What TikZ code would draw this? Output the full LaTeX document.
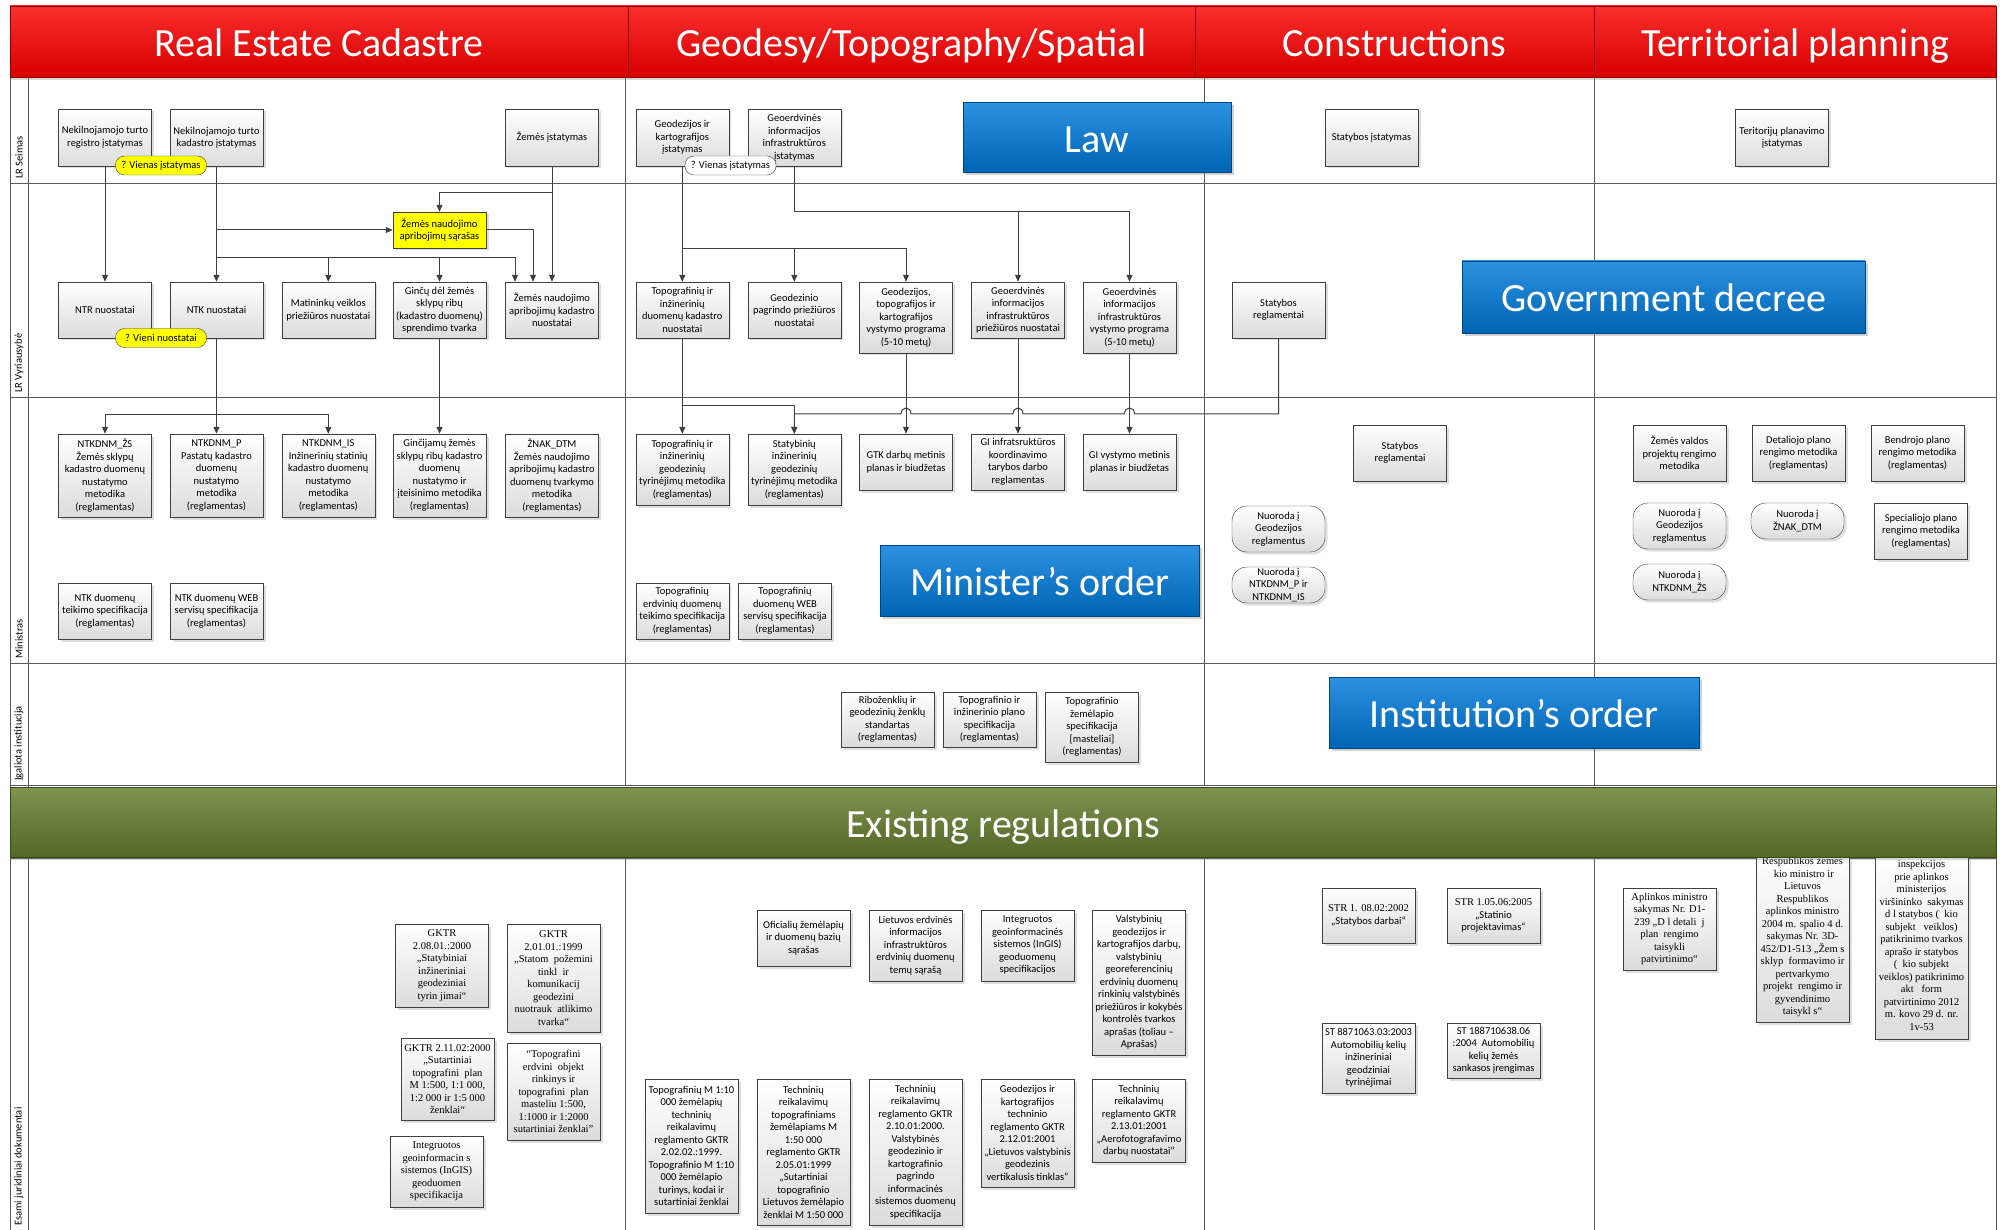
\documentclass[tikz,border=0pt]{standalone}
\usepackage{fontspec}
\setmainfont{Carlito}
\newfontfamily\serifdoc{Liberation Serif}
\usetikzlibrary{arrows.meta,shadows,positioning}

\definecolor{linegray}{RGB}{64,64,64}
\definecolor{gridgray}{RGB}{90,90,90}
\definecolor{boxbot}{RGB}{220,220,220}
\definecolor{hdrtop}{RGB}{250,45,45}
\definecolor{hdrbot}{RGB}{215,0,0}
\definecolor{lawtop}{RGB}{45,145,225}
\definecolor{lawbot}{RGB}{0,100,180}
\definecolor{lawedge}{RGB}{0,70,130}
\definecolor{regtop}{RGB}{128,148,80}
\definecolor{regbot}{RGB}{82,102,38}
\definecolor{pillyellow}{RGB}{255,255,0}

\tikzset{%
	boxbase/.style  = {draw=linegray, rectangle, minimum width=93pt, inner sep=1pt, align=center, font=\fontsize{10.5}{12.5}\selectfont, drop shadow={shadow xshift=2.5pt, shadow yshift=-2.5pt, opacity=0.25}},
	docbox/.style   = {boxbase, top color=white, bottom color=boxbot},
	serifbox/.style = {docbox, font=\serifdoc\fontsize{10.5}{12.5}\selectfont},
	notebox/.style  = {boxbase, fill=pillyellow},
	refbox/.style   = {docbox, rounded corners=15pt},
	pill/.style     = {draw=linegray, rounded corners=9pt, minimum width=91pt, minimum height=19pt, inner sep=1pt, font=\fontsize{10.5}{12}\selectfont},
	bigtext/.style  = {text=white, font=\fontsize{40}{44}\selectfont, text height=31pt, text depth=1pt},
	headcell/.style = {bigtext, draw=red!55!black, rectangle, top color=hdrtop, bottom color=hdrbot, minimum height=71pt, drop shadow={shadow xshift=0pt, shadow yshift=-3pt, opacity=0.3}},
	lawbox/.style   = {bigtext, draw=lawedge, rectangle, top color=lawtop, bottom color=lawbot, drop shadow={shadow xshift=3pt, shadow yshift=-3pt, opacity=0.35}},
	regbar/.style   = {bigtext, draw=regbot!70!black, rectangle, top color=regtop, bottom color=regbot, drop shadow={shadow xshift=0pt, shadow yshift=-3pt, opacity=0.3}},
	lanelabel/.style= {inner sep=1pt, font=\fontsize{10.5}{12}\selectfont},
	gridline/.style = {draw=gridgray, line width=0.8pt},
	arrow/.style    = {draw=linegray, line width=1pt, -{Triangle[length=7pt,width=6pt]}},
}

\begin{document}
\begin{tikzpicture}[x=1pt,y=-1pt]
	\useasboundingbox (0,0) rectangle (2000,1230);
	\fill[white] (0,0) rectangle (2000,1230);

	% lanes and columns
	\draw[gridline] (10,78) -- (10,1230) (28,78) -- (28,1230) (1996,78) -- (1996,1230);
	\foreach \y in {183,397,663,785,858}
		\draw[gridline] (10,\y) -- (1996,\y);
	\foreach \x in {625,1204,1594} {
		\draw[gridline] (\x,78) -- (\x,785);
		\draw[gridline] (\x,858) -- (\x,1230);
	}
	\node[lanelabel, rotate=90, anchor=west] (lseimas) at (19,180) {LR Seimas};
	\node[lanelabel, rotate=90, anchor=west] (lvyr) at (19,394) {LR Vyriausybė};
	\node[lanelabel, rotate=90, anchor=west] (lmin) at (19,660) {Ministras};
	\node[lanelabel, rotate=90, anchor=west] (linst) at (19,782) {Įgaliota institucija};
	\node[lanelabel, rotate=90, anchor=west] (ldoc) at (19,1227) {Esami juridiniai dokumentai};

	% column headers
	\node[headcell, minimum width=618pt] (hdrcad) at (319,41.5) {Real Estate Cadastre};
	\node[headcell, minimum width=567pt] (hdrgeo) at (911.5,41.5) {Geodesy/Topography/Spatial};
	\node[headcell, minimum width=399pt] (hdrcon) at (1394.5,41.5) {Constructions};
	\node[headcell, minimum width=402pt] (hdrter) at (1795,41.5) {Territorial planning};

	% LR Seimas
	\node[docbox, minimum height=57pt] (ntrlaw) at (105,137.5) {Nekilnojamojo turto\\registro įstatymas};
	\node[docbox, minimum height=57pt] (ntklaw) at (216.5,137.5) {Nekilnojamojo turto\\kadastro įstatymas};
	\node[docbox, minimum height=57pt] (zemlaw) at (552,137.5) {Žemės įstatymas};
	\node[docbox, minimum height=57pt] (gklaw) at (682.3,137.5) {Geodezijos ir\\kartografijos\\įstatymas};
	\node[docbox, minimum height=57pt] (gilaw) at (794.3,137.5) {Geoerdvinės\\informacijos\\infrastruktūros\\įstatymas};
	\node[docbox, minimum height=57pt] (stlaw) at (1371.5,137.5) {Statybos įstatymas};
	\node[docbox, minimum height=57pt] (tplaw) at (1782,137.5) {Teritorijų planavimo\\įstatymas};
	\node[lawbox, minimum width=268pt, minimum height=70pt] (law) at (1097,137.5) {Law};

	% LR Vyriausybe
	\node[notebox, minimum height=36pt] (zemlist) at (439.5,230) {Žemės naudojimo\\apribojimų sąrašas};
	\node[docbox, minimum height=56pt] (ntrnuo) at (105,310) {NTR nuostatai};
	\node[docbox, minimum height=56pt] (ntknuo) at (216.5,310) {NTK nuostatai};
	\node[docbox, minimum height=56pt] (matnuo) at (328.3,310) {Matininkų veiklos\\priežiūros nuostatai};
	\node[docbox, minimum height=56pt] (gincnuo) at (439.5,310) {Ginčų dėl žemės\\sklypų ribų\\(kadastro duomenų)\\sprendimo tvarka};
	\node[docbox, minimum height=56pt] (zemnuo) at (552,310) {Žemės naudojimo\\apribojimų kadastro\\nuostatai};
	\node[docbox, minimum height=56pt] (tinuo) at (682.3,310) {Topografinių ir\\inžinerinių\\duomenų kadastro\\nuostatai};
	\node[docbox, minimum height=56pt] (gpnuo) at (794.3,310) {Geodezinio\\pagrindo priežiūros\\nuostatai};
	\node[docbox, minimum height=71pt] (gtkprog) at (906,317.5) {Geodezijos,\\topografijos ir\\kartografijos\\vystymo programa\\(5-10 metų)};
	\node[docbox, minimum height=56pt] (ginuo) at (1018,310) {Geoerdvinės\\informacijos\\infrastruktūros\\priežiūros nuostatai};
	\node[docbox, minimum height=71pt] (giprog) at (1129.5,317.5) {Geoerdvinės\\informacijos\\infrastruktūros\\vystymo programa\\(5-10 metų)};
	\node[docbox, minimum height=56pt] (streg1) at (1278.5,310) {Statybos\\reglamentai};
	\node[lawbox, minimum width=403pt, minimum height=72pt] (govdec) at (1663.5,297) {Government decree};

	% Ministras
	\node[docbox, minimum height=83pt] (ntkdnmzs) at (105,475.5) {NTKDNM\_ŽS\\Žemės sklypų\\kadastro duomenų\\nustatymo\\metodika\\(reglamentas)};
	\node[docbox, minimum height=83pt] (ntkdnmp) at (216.5,475.5) {NTKDNM\_P\\Pastatų kadastro\\duomenų\\nustatymo\\metodika\\(reglamentas)};
	\node[docbox, minimum height=83pt] (ntkdnmis) at (328.3,475.5) {NTKDNM\_IS\\Inžinerinių statinių\\kadastro duomenų\\nustatymo\\metodika\\(reglamentas)};
	\node[docbox, minimum height=83pt] (gincmet) at (439.5,475.5) {Ginčijamų žemės\\sklypų ribų kadastro\\duomenų\\nustatymo ir\\įteisinimo metodika\\(reglamentas)};
	\node[docbox, minimum height=83pt] (znakdtm) at (552,475.5) {ŽNAK\_DTM\\Žemės naudojimo\\apribojimų kadastro\\duomenų tvarkymo\\metodika\\(reglamentas)};
	\node[docbox, minimum height=56pt] (ntkspec) at (105,611) {NTK duomenų\\teikimo specifikacija\\(reglamentas)};
	\node[docbox, minimum height=56pt] (ntkweb) at (216.5,611) {NTK duomenų WEB\\servisų specifikacija\\(reglamentas)};
	\node[docbox, minimum height=71pt] (timet) at (682.3,469.5) {Topografinių ir\\inžinerinių\\geodezinių\\tyrinėjimų metodika\\(reglamentas)};
	\node[docbox, minimum height=71pt] (stmet) at (794.3,469.5) {Statybinių\\inžinerinių\\geodezinių\\tyrinėjimų metodika\\(reglamentas)};
	\node[docbox, minimum height=56pt] (gtkplan) at (906,462) {GTK darbų metinis\\planas ir biudžetas};
	\node[docbox, minimum height=56pt] (gitaryba) at (1018,462) {GI infratsruktūros\\koordinavimo\\tarybos darbo\\reglamentas};
	\node[docbox, minimum height=56pt] (giplan) at (1129.5,462) {GI vystymo metinis\\planas ir biudžetas};
	\node[docbox, minimum height=56pt] (tispec) at (682.3,611) {Topografinių\\erdvinių duomenų\\teikimo specifikacija\\(reglamentas)};
	\node[docbox, minimum height=56pt] (tiweb) at (785,611) {Topografinių\\duomenų WEB\\servisų specifikacija\\(reglamentas)};
	\node[lawbox, minimum width=319pt, minimum height=71pt] (minorder) at (1039.5,580.5) {Minister’s order};
	\node[docbox, minimum height=56pt] (streg2) at (1400,453) {Statybos\\reglamentai};
	\node[refbox, minimum height=46pt] (nuorgeo1) at (1278.5,529) {Nuoroda į\\Geodezijos\\reglamentus};
	\node[refbox, minimum height=36pt] (nuorntk) at (1278.5,585) {Nuoroda į\\NTKDNM\_P ir\\NTKDNM\_IS};
	\node[docbox, minimum height=56pt] (zvmet) at (1679.5,453) {Žemės valdos\\projektų rengimo\\metodika};
	\node[docbox, minimum height=56pt] (detmet) at (1798.5,453) {Detaliojo plano\\rengimo metodika\\(reglamentas)};
	\node[docbox, minimum height=56pt] (benmet) at (1917.5,453) {Bendrojo plano\\rengimo metodika\\(reglamentas)};
	\node[refbox, minimum height=46pt] (nuorgeo2) at (1679.5,526) {Nuoroda į\\Geodezijos\\reglamentus};
	\node[refbox, minimum height=36pt] (nuorznak) at (1797.5,521) {Nuoroda į\\ŽNAK\_DTM};
	\node[docbox, minimum height=56pt] (specmet) at (1921,531) {Specialiojo plano\\rengimo metodika\\(reglamentas)};
	\node[refbox, minimum height=36pt] (nuorzs) at (1679.5,582) {Nuoroda į\\NTKDNM\_ŽS};

	% Igaliota institucija
	\node[docbox, minimum height=55pt] (ribst) at (887.5,719.5) {Riboženklių ir\\geodezinių ženklų\\standartas\\(reglamentas)};
	\node[docbox, minimum height=55pt] (tiplan) at (989.5,719.5) {Topografinio ir\\inžinerinio plano\\specifikacija\\(reglamentas)};
	\node[docbox, minimum height=70pt] (tizem) at (1092,727) {Topografinio\\žemėlapio\\specifikacija\\{[masteliai]}\\(reglamentas)};
	\node[lawbox, minimum width=370pt, minimum height=71pt] (instorder) at (1514,712.5) {Institution’s order};

	% Esami juridiniai dokumentai
	\node[serifbox, minimum height=170pt] (zemukio) at (1802.5,937) {Respublikos žemės\\\ kio ministro ir\\Lietuvos\\Respublikos\\aplinkos ministro\\2004 m. spalio 4 d.\\sakymas Nr. 3D-\\452/D1-513 „Žem\ s\\sklyp\ \ formavimo ir\\pertvarkymo\\projekt\ \ rengimo ir\\gyvendinimo\\taisykl\ s“};
	\node[serifbox, minimum height=187pt] (inspek) at (1921.5,945.5) {inspekcijos\\prie aplinkos\\ministerijos\\viršininko\ \ sakymas\\d\ l statybos (\ \ kio\\subjekt\ \ \ veiklos)\\patikrinimo tvarkos\\aprašo ir statybos\\(\ \ kio subjekt\\veiklos) patikrinimo\\akt\ \ \ form\\patvirtinimo 2012\\m. kovo 29 d. nr.\\1v-53};
	\node[regbar, minimum width=1986pt, minimum height=70pt] (existing) at (1003,822) {Existing regulations};

	\node[serifbox, minimum height=83pt] (gktr1) at (442,965.5) {GKTR\\2.08.01.:2000\\„Statybiniai\\inžineriniai\\geodeziniai\\tyrin\ jimai“};
	\node[serifbox, minimum height=108pt] (gktr2) at (553.5,978) {GKTR\\2.01.01.:1999\\„Statom\ \ požemini\\tinkl\ \ ir\\komunikacij\\geodezini\\nuotrauk\ \ atlikimo\\tvarka“};
	\node[serifbox, minimum height=82pt] (gktr3) at (447.5,1079) {GKTR 2.11.02:2000\\„Sutartiniai\\topografini\ \ plan\\M 1:500, 1:1 000,\\1:2 000 ir 1:5 000\\ženklai“};
	\node[serifbox, minimum height=97pt] (topoerd) at (553.5,1091.5) {“Topografini\\erdvini\ \ objekt\\rinkinys ir\\topografini\ \ plan\\masteliu 1:500,\\1:1000 ir 1:2000\\sutartiniai ženklai”};
	\node[serifbox, minimum height=71pt] (ingis1) at (436.5,1171.5) {Integruotos\\geoinformacin\ s\\sistemos (InGIS)\\geoduomen\\specifikacija};
	\node[docbox, minimum height=56pt] (oficial) at (803.5,938) {Oficialių žemėlapių\\ir duomenų bazių\\sąrašas};
	\node[docbox, minimum height=71pt] (lietuvos) at (915.5,945.5) {Lietuvos erdvinės\\informacijos\\infrastruktūros\\erdvinių duomenų\\temų sąrašą};
	\node[docbox, minimum height=71pt] (ingis2) at (1027.5,945.5) {Integruotos\\geoinformacinės\\sistemos (InGIS)\\geoduomenų\\specifikacijos};
	\node[docbox, minimum height=145pt] (valst) at (1139,982.5) {Valstybinių\\geodezijos ir\\kartografijos darbų,\\valstybinių\\georeferencinių\\erdvinių duomenų\\rinkinių valstybinės\\priežiūros ir kokybės\\kontrolės tvarkos\\aprašas (toliau –\\Aprašas)};
	\node[docbox, minimum height=134pt] (topo10) at (691.5,1146) {Topografinių M 1:10\\000 žemėlapių\\techninių\\reikalavimų\\reglamento GKTR\\2.02.02.:1999.\\Topografinio M 1:10\\000 žemėlapio\\turinys, kodai ir\\sutartiniai ženklai};
	\node[docbox, minimum height=146pt] (tech50) at (803.5,1152) {Techninių\\reikalavimų\\topografiniams\\žemėlapiams M\\1:50 000\\reglamento GKTR\\2.05.01:1999\\„Sutartiniai\\topografinio\\Lietuvos žemėlapio\\ženklai M 1:50 000};
	\node[docbox, minimum height=146pt] (techgktr) at (915.5,1152) {Techninių\\reikalavimų\\reglamento GKTR\\2.10.01:2000.\\Valstybinės\\geodezinio ir\\kartografinio\\pagrindo\\informacinės\\sistemos duomenų\\specifikacija};
	\node[docbox, minimum height=108pt] (geodver) at (1027.5,1133) {Geodezijos ir\\kartografijos\\techninio\\reglamento GKTR\\2.12.01:2001\\„Lietuvos valstybinis\\geodezinis\\vertikalusis tinklas“};
	\node[docbox, minimum height=83pt] (aerofoto) at (1139,1120.5) {Techninių\\reikalavimų\\reglamento GKTR\\2.13.01:2001\\„Aerofotografavimo\\darbų nuostatai“};
	\node[docbox, minimum height=55pt] (str1) at (1368.5,915.5) {{\serifdoc STR 1. 08.02:2002}\\„Statybos darbai“};
	\node[docbox, minimum height=55pt] (str2) at (1493.5,915.5) {{\serifdoc STR 1.05.06:2005}\\„Statinio\\projektavimas“};
	\node[docbox, minimum height=70pt] (st1) at (1368.5,1058) {ST 8871063.03:2003\\Automobilių kelių\\inžineriniai\\geodziniai\\tyrinėjimai};
	\node[docbox, minimum height=55pt] (st2) at (1493.5,1050.5) {ST 188710638.06\\:2004\ \ Automobilių\\kelių žemės\\sankasos įrengimas};
	\node[serifbox, minimum height=82pt] (aplmin) at (1669.5,929) {Aplinkos ministro\\sakymas Nr. D1-\\239 „D\ l detali\ \ j\\plan\ \ rengimo\\taisykli\\patvirtinimo“};

	% connectors: real estate cadastre
	\draw[arrow] (ntrlaw) -- (ntrnuo);
	\draw[arrow] (ntklaw) -- (ntknuo);
	\draw[arrow] (ntklaw.south) |- (zemlist);
	\draw[arrow] (ntklaw.south) |- ([yshift=24pt]matnuo.north) -- (matnuo);
	\draw[arrow] (ntklaw.south) |- ([yshift=24pt]gincnuo.north) -- (gincnuo);
	\draw[arrow] (ntklaw.south) |- ([xshift=-37pt,yshift=24pt]zemnuo.north) -- ([xshift=-37pt]zemnuo.north);
	\draw[arrow] (zemlist) -| ([xshift=-19pt]zemnuo.north);
	\draw[arrow] (zemlaw) -- (zemnuo);
	\draw[arrow] (zemlaw.south) |- ([yshift=19pt]zemlist.north) -- (zemlist);
	\draw[arrow] (ntknuo) -- (ntkdnmp);
	\draw[arrow] (ntknuo.south) |- ([yshift=19pt]ntkdnmzs.north) -- (ntkdnmzs);
	\draw[arrow] (ntknuo.south) |- ([yshift=19pt]ntkdnmis.north) -- (ntkdnmis);
	\draw[arrow] (gincnuo) -- (gincmet);

	% connectors: geodesy
	\draw[arrow] (gklaw) -- (tinuo);
	\draw[arrow] (gklaw.south) |- ([yshift=33pt]gpnuo.north) -- (gpnuo);
	\draw[arrow] (gklaw.south) |- ([yshift=33pt]gtkprog.north) -- (gtkprog);
	\draw[arrow] (gilaw.south) |- ([yshift=70pt]ginuo.north) -- (ginuo);
	\draw[arrow] (gilaw.south) |- ([yshift=70pt]giprog.north) -- (giprog);
	\draw[arrow] (tinuo) -- (timet);
	\draw[arrow] (tinuo.south) |- ([yshift=28pt]stmet.north) -- (stmet);
	\draw[arrow] (gtkprog) -- (gtkplan);
	\draw[arrow] (ginuo) -- (gitaryba);
	\draw[arrow] (giprog) -- (giplan);
	\draw[arrow] (streg1.south) |- (1134.5,414) .. controls (1134.5,406) and (1124.5,406) .. (1124.5,414)
		-- (1023,414) .. controls (1023,406) and (1013,406) .. (1013,414)
		-- (911,414) .. controls (911,406) and (901,406) .. (901,414) -| (stmet);  % line jumps

	% notes on top of the lines
	\node[pill, fill=pillyellow] (vienas1) at (161,165.5) {? Vienas įstatymas};
	\node[pill, fill=white] (vienas2) at (730.5,165.5) {? Vienas įstatymas};
	\node[pill, fill=pillyellow] (vieni) at (161,338) {? Vieni nuostatai};
\end{tikzpicture}
\end{document}
